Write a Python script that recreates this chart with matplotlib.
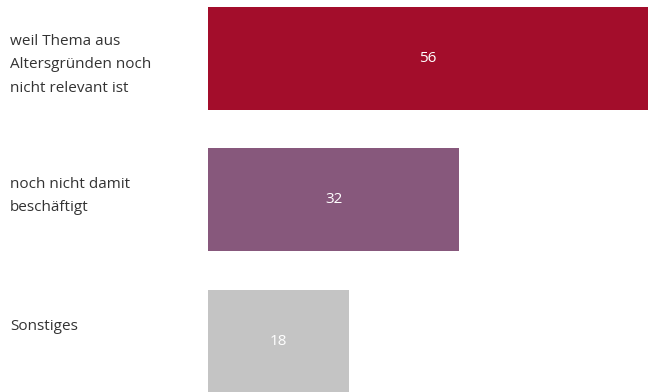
import matplotlib.pyplot as plt

categories = ["weil Thema aus\nAltersgründen noch\nnicht relevant ist",
              "noch nicht damit\nbeschäftigt",
              "Sonstiges"]
values = [56, 32, 18]
colors = ["#A30D2B", "#87587C", "#C4C4C4"]

plt.rcParams['font.family'] = ['Open Sans', 'DejaVu Sans']

W, H = 648, 392
fig = plt.figure(figsize=(W / 100, H / 100), dpi=100)
ax = fig.add_axes([208 / W, 0, 440 / W, 1])

pos = list(range(len(values)))
ax.barh(pos, values, height=0.728, color=colors)
ax.set_xlim(0, 56)
ax.set_ylim(2.357, -0.413)

for y, v in zip(pos, values):
    ax.text(v / 2, y, str(v), ha='center', va='center', color='white', fontsize=11)

# category labels sit in the left margin, not quite centred on the bars
label_y = [65, 196, 327]
for lab, py in zip(categories, label_y):
    fig.text(10 / W, 1 - py / H, lab, ha='left', va='center',
             color='#333333', fontsize=11, linespacing=1.75)

ax.axis('off')
fig.savefig("out.png", dpi=100)
